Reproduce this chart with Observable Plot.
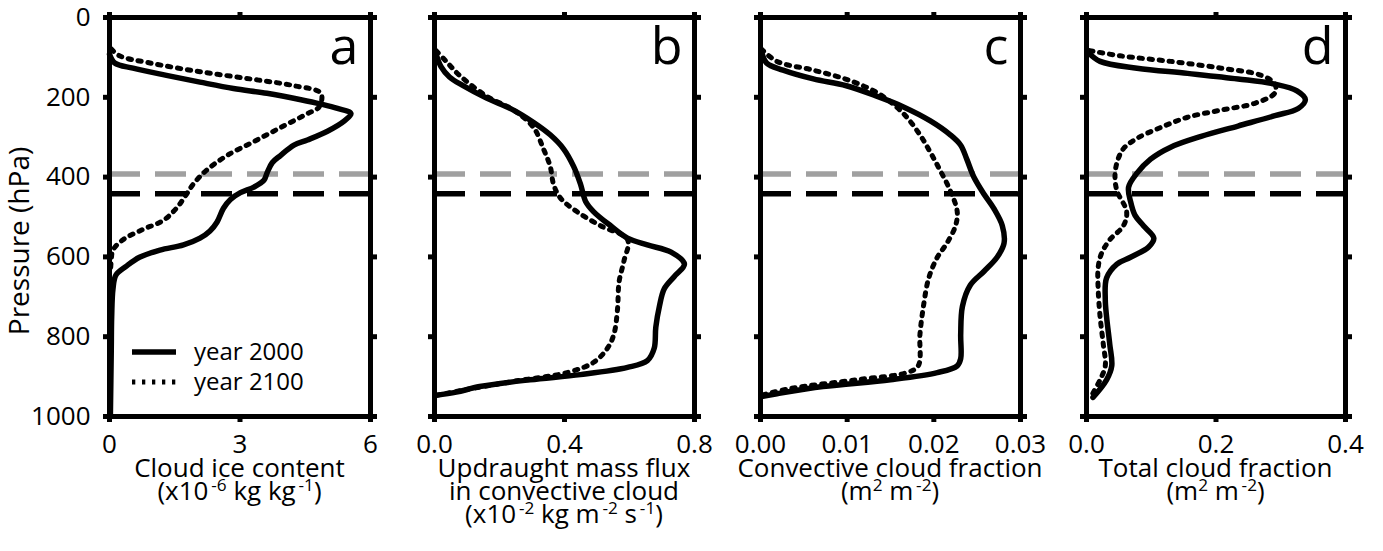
<!DOCTYPE html>
<html><head><meta charset="utf-8">
<script src="https://cdn.jsdelivr.net/npm/d3@7"></script>
<script src="https://cdn.jsdelivr.net/npm/@observablehq/plot@0.6"></script>
<style>
body{margin:0;background:#fff;font-family:"Open Sans",sans-serif;color:#000}
#chart{position:relative;width:1383px;height:551px;overflow:hidden;background:#fff}
.panel{position:absolute;top:0}
.xlab{position:absolute;width:400px;text-align:center;font-size:26px;line-height:23px;white-space:nowrap}
.xlab sup{font-size:0.66em;position:relative;top:-0.5em;vertical-align:baseline;line-height:0}
.leg{position:absolute;font-size:24px;line-height:30px;white-space:nowrap}
</style></head><body><div id="chart"></div><script>
// ---- data (pressure in hPa, values in axis units) ----
const yTicks = [0, 200, 400, 600, 800, 1000];
const greyLevel = [392];
const blackLevel = [442];

const aTicks = [0, 3, 6];
const aP2000 = [92,114,127,145,162,178,190,206,217,228,241,259,285,307,320,346,364,390,408,425,439,456,478,513,535,553,570,583,601,623,645,680,750,838,1000];
const aV2000 = [0,0.12,0.54,1.31,2.08,2.85,3.62,4.40,4.86,5.24,5.55,5.40,5.01,4.55,4.24,3.93,3.74,3.62,3.55,3.32,3.01,2.78,2.62,2.47,2.31,2.08,1.70,1.16,0.69,0.39,0.15,0.08,0.05,0.04,0.02];
const aP2100 = [79,96,114,136,154,171,190,224,241,276,311,346,382,417,443,478,509,531,557,583,610,640];
const aV2100 = [0.04,0.23,0.93,2.08,3.24,4.24,4.86,4.82,4.55,3.93,3.32,2.70,2.24,1.93,1.77,1.54,1.23,0.77,0.31,0.08,0.04,0.02];

const bTicks = [0, 0.4, 0.8];
const bP2000 = [92,123,149,171,202,232,263,294,329,373,417,461,487,522,553,570,588,618,649,680,724,776,829,860,877,895,908,925,939,947];
const bV2000 = [0.005,0.02,0.046,0.088,0.16,0.243,0.305,0.356,0.397,0.428,0.449,0.465,0.49,0.542,0.594,0.655,0.728,0.769,0.738,0.707,0.692,0.681,0.676,0.655,0.594,0.449,0.294,0.139,0.067,0.005];
const bP2100 = [83,110,145,197,232,276,329,373,417,452,487,522,557,610,662,732,794,829,864,890,912,934,947];
const bV2100 = [0.005,0.036,0.077,0.16,0.243,0.305,0.335,0.356,0.366,0.387,0.439,0.511,0.594,0.583,0.568,0.563,0.552,0.532,0.49,0.408,0.243,0.088,0.005];

const cTicks = [0, 0.01, 0.02, 0.03];
const cP2000 = [83,114,132,154,171,197,224,259,294,320,355,399,443,478,522,566,601,636,671,724,794,855,873,890,908,925,943,950];
const cV2000 = [0.0001,0.0007,0.0026,0.0061,0.0099,0.0134,0.0165,0.0196,0.0219,0.0231,0.0238,0.0246,0.0258,0.0269,0.0279,0.0281,0.0273,0.0258,0.0242,0.0233,0.0231,0.0231,0.0227,0.0204,0.015,0.0072,0.0019,0.0001];
const cP2100 = [79,110,132,158,193,241,294,338,382,434,487,522,566,601,654,724,794,873,890,908,930,947];
const cV2100 = [0.0001,0.0019,0.0061,0.0103,0.0138,0.0165,0.0184,0.0196,0.0207,0.0219,0.0227,0.0225,0.0215,0.0204,0.0194,0.0188,0.0184,0.0182,0.0169,0.0111,0.0034,0.0001];

const dTicks = [0, 0.2, 0.4];
const dP2000 = [88,110,127,140,154,167,184,206,228,246,272,298,325,355,390,425,461,496,522,553,575,601,618,653,706,750,820,873,908,952];
const dV2000 = [0.003,0.021,0.078,0.156,0.234,0.291,0.325,0.338,0.327,0.291,0.234,0.177,0.13,0.099,0.078,0.065,0.068,0.075,0.088,0.104,0.096,0.068,0.047,0.031,0.029,0.031,0.036,0.039,0.031,0.01];
const dP2100 = [83,96,110,127,145,167,189,215,232,250,276,303,329,364,399,434,487,522,557,592,627,680,750,820,873,908,947];
const dV2100 = [0.005,0.052,0.13,0.208,0.27,0.291,0.291,0.26,0.208,0.156,0.114,0.078,0.057,0.047,0.044,0.047,0.062,0.057,0.036,0.023,0.018,0.018,0.021,0.026,0.029,0.021,0.008];

const letters = ["a", "b", "c", "d"];
const xLabels = [
  'Cloud ice content<br>(x10<sup>&thinsp;-6</sup> kg kg<sup>&thinsp;-1</sup>)',
  'Updraught mass flux<br>in convective cloud<br>(x10<sup>&thinsp;-2</sup> kg m<sup>&thinsp;-2</sup> s<sup>&thinsp;-1</sup>)',
  'Convective cloud fraction<br>(m<sup>2</sup> m<sup>&thinsp;-2</sup>)',
  'Total cloud fraction<br>(m<sup>2</sup> m<sup>&thinsp;-2</sup>)'
];
const legendLabels = ["year 2000", "year 2100"];

// ---- layout ----
const zip = (P, V) => P.map((p, i) => ({p, v: V[i]}));
const panels = [
  {left:109, right:370, domain:[0,6], ticks:aTicks, fmt:d3.format("d"), s0:zip(aP2000,aV2000), s1:zip(aP2100,aV2100), showY:true},
  {left:434, right:694, domain:[0,0.8], ticks:bTicks, fmt:d3.format(".1f"), s0:zip(bP2000,bV2000), s1:zip(bP2100,bV2100)},
  {left:760, right:1020, domain:[0,0.03], ticks:cTicks, fmt:d3.format(".2f"), s0:zip(cP2000,cV2000), s1:zip(cP2100,cV2100)},
  {left:1086, right:1345, domain:[0,0.4], ticks:dTicks, fmt:d3.format(".1f"), s0:zip(dP2000,dV2000), s1:zip(dP2100,dV2100)}
];
const H = 551, MT = 17, MB = 135;
const chart = document.getElementById("chart");

panels.forEach((cfg, i) => {
  const mL = cfg.showY ? cfg.left : 60, mR = 60;
  const W = cfg.right - cfg.left;
  const marks = [
    Plot.ruleY(greyLevel, {y: d => d, stroke: "#a0a0a0", strokeWidth: 5.5, strokeDasharray: "31,15"}),
    Plot.ruleY(blackLevel, {y: d => d, stroke: "#000", strokeWidth: 5.5, strokeDasharray: "31,15"}),
    Plot.line(cfg.s1, {x: "v", y: "p", curve: "catmull-rom", stroke: "#000", strokeWidth: 5, strokeDasharray: "3.3,6.7"}),
    Plot.line(cfg.s0, {x: "v", y: "p", curve: "catmull-rom", stroke: "#000", strokeWidth: 5.5}),
    Plot.frame({stroke: "#000", strokeWidth: 5}),
    Plot.axisY(yTicks, {anchor: "left", tickSize: 6, strokeWidth: 5, tickPadding: 13, label: null,
      fill: cfg.showY ? "#000" : "none", tickFormat: d3.format("d")}),
    Plot.axisY(yTicks, {anchor: "right", tickSize: 6, strokeWidth: 5, label: null, fill: "none"}),
    Plot.axisX(cfg.ticks, {anchor: "top", tickSize: 6, strokeWidth: 5, label: null, fill: "none"}),
    Plot.axisX(cfg.ticks, {anchor: "bottom", tickSize: 6, strokeWidth: 5, tickPadding: 12, label: null, fill: "#000", tickFormat: cfg.fmt}),
    Plot.text([letters[i]], {frameAnchor: "top-right", dx: -12, dy: 10, fontSize: 52, lineAnchor: "top", textAnchor: "end", fill: "#000"})
  ];
  if (cfg.showY) {
    marks.push(Plot.text(["Pressure (hPa)"], {frameAnchor: "left", textAnchor: "middle", rotate: -90, dx: -89, dy: 24, fontSize: 28, fill: "#000"}));
  }
  const svg = Plot.plot({
    width: mL + W + mR, height: H,
    marginLeft: mL, marginRight: mR, marginTop: MT, marginBottom: MB,
    x: {domain: cfg.domain},
    y: {domain: [0, 1000], reverse: true},
    style: {fontFamily: "Open Sans", fontSize: "26px", background: "transparent", overflow: "visible", color: "#000"},
    marks
  });
  const div = document.createElement("div");
  div.className = "panel";
  div.style.left = (cfg.left - mL) + "px";
  div.style.width = (mL + W + mR) + "px";
  div.appendChild(svg);
  chart.appendChild(div);

  const lab = document.createElement("div");
  lab.className = "xlab";
  lab.style.left = ((cfg.left + cfg.right) / 2 - 200) + "px";
  lab.style.top = "456px";
  lab.innerHTML = xLabels[i];
  chart.appendChild(lab);
});

// ---- legend (panel a) ----
const legTop = [352, 382];
legendLabels.forEach((t, i) => {
  const s = document.createElementNS("http://www.w3.org/2000/svg", "svg");
  s.setAttribute("width", 44); s.setAttribute("height", 10);
  s.style.position = "absolute"; s.style.left = "132px"; s.style.top = (legTop[i] - 5) + "px";
  const ln = document.createElementNS("http://www.w3.org/2000/svg", "line");
  ln.setAttribute("x1", 0); ln.setAttribute("x2", 44); ln.setAttribute("y1", 5); ln.setAttribute("y2", 5);
  ln.setAttribute("stroke", "#000"); ln.setAttribute("stroke-width", i ? 5 : 5.5);
  if (i) ln.setAttribute("stroke-dasharray", "3.3,6.7");
  s.appendChild(ln); chart.appendChild(s);
  const tx = document.createElement("div");
  tx.className = "leg"; tx.style.left = "194px"; tx.style.top = (legTop[i] - 16) + "px";
  tx.textContent = t; chart.appendChild(tx);
});
</script></body></html>
